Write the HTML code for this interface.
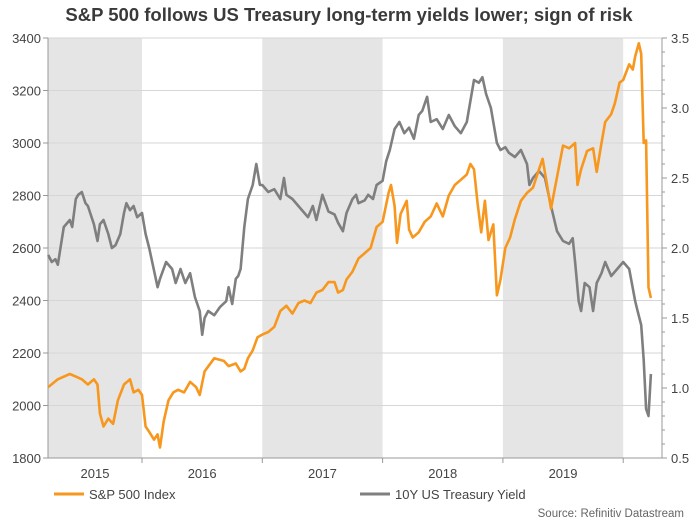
<!DOCTYPE html>
<html><head><meta charset="utf-8"><style>
body{margin:0;background:#fff;}
svg text{font-family:"Liberation Sans",sans-serif;}
</style></head><body>
<svg width="696" height="522" viewBox="0 0 696 522" xmlns="http://www.w3.org/2000/svg">
<text x="349" y="21" text-anchor="middle" font-size="18.5" font-weight="bold" fill="#3a3a3a">S&amp;P 500 follows US Treasury long-term yields lower; sign of risk</text>
<g id="bands"></g><g id="grid"></g><g id="axes"></g><g id="series"></g>
<g>
<line x1="54" y1="494" x2="84" y2="494" stroke="#f7971e" stroke-width="3"/>
<text x="89" y="499" font-size="13" fill="#444">S&amp;P 500 Index</text>
<line x1="360" y1="494" x2="390" y2="494" stroke="#7f7f7f" stroke-width="3"/>
<text x="395" y="499" font-size="13" fill="#444">10Y US Treasury Yield</text>
</g>
<text x="684" y="517" text-anchor="end" font-size="11.5" fill="#666">Source: Refinitiv Datastream</text>
</svg>
<script>
const years=["2015","2016","2017","2018","2019"];
const leftTicks=[1800,2000,2200,2400,2600,2800,3000,3200,3400];
const rightTicks=["0.5","1.0","1.5","2.0","2.5","3.0","3.5"];
const spT=[2015.22,2015.3,2015.4,2015.45,2015.5,2015.55,2015.6,2015.63,2015.65,2015.68,2015.72,2015.76,2015.8,2015.85,2015.9,2015.93,2015.97,2016.0,2016.03,2016.06,2016.1,2016.13,2016.15,2016.18,2016.22,2016.26,2016.3,2016.35,2016.4,2016.45,2016.48,2016.52,2016.6,2016.68,2016.72,2016.78,2016.82,2016.85,2016.88,2016.92,2016.96,2017.0,2017.05,2017.1,2017.15,2017.2,2017.25,2017.3,2017.35,2017.4,2017.45,2017.5,2017.55,2017.6,2017.63,2017.67,2017.7,2017.75,2017.8,2017.85,2017.9,2017.95,2018.0,2018.05,2018.07,2018.1,2018.12,2018.15,2018.2,2018.22,2018.25,2018.3,2018.35,2018.4,2018.45,2018.5,2018.55,2018.6,2018.65,2018.7,2018.73,2018.76,2018.79,2018.82,2018.85,2018.88,2018.92,2018.95,2018.98,2019.02,2019.06,2019.1,2019.15,2019.2,2019.25,2019.3,2019.33,2019.36,2019.4,2019.45,2019.5,2019.55,2019.6,2019.62,2019.65,2019.7,2019.75,2019.78,2019.82,2019.85,2019.9,2019.93,2019.97,2020.0,2020.05,2020.08,2020.1,2020.13,2020.15,2020.17,2020.19,2020.21,2020.23];
const spV=[2070,2100,2120,2110,2100,2080,2100,2080,1970,1920,1950,1930,2020,2080,2100,2050,2060,2040,1920,1900,1870,1890,1840,1940,2020,2050,2060,2050,2090,2070,2040,2130,2180,2170,2150,2160,2130,2140,2180,2210,2260,2270,2280,2300,2360,2380,2350,2390,2400,2390,2430,2440,2470,2470,2430,2440,2480,2510,2560,2580,2600,2680,2700,2810,2840,2760,2620,2730,2780,2670,2640,2660,2700,2720,2770,2720,2800,2840,2860,2880,2920,2900,2770,2660,2780,2630,2690,2420,2480,2600,2640,2710,2780,2810,2830,2900,2940,2860,2750,2870,2990,2980,3000,2840,2900,2970,2980,2890,3000,3080,3110,3150,3230,3240,3300,3280,3330,3380,3340,3000,3010,2450,2410];
const ylT=[2015.22,2015.25,2015.28,2015.3,2015.35,2015.4,2015.42,2015.45,2015.47,2015.5,2015.53,2015.55,2015.6,2015.63,2015.65,2015.68,2015.72,2015.75,2015.78,2015.82,2015.85,2015.87,2015.9,2015.93,2015.96,2016.0,2016.03,2016.06,2016.1,2016.13,2016.15,2016.2,2016.25,2016.28,2016.32,2016.36,2016.4,2016.44,2016.48,2016.5,2016.52,2016.55,2016.6,2016.65,2016.7,2016.72,2016.75,2016.78,2016.8,2016.82,2016.85,2016.88,2016.92,2016.95,2016.98,2017.0,2017.05,2017.1,2017.15,2017.18,2017.2,2017.25,2017.3,2017.35,2017.38,2017.42,2017.45,2017.5,2017.55,2017.6,2017.63,2017.67,2017.7,2017.75,2017.78,2017.8,2017.85,2017.88,2017.92,2017.95,2018.0,2018.03,2018.06,2018.1,2018.14,2018.18,2018.22,2018.26,2018.3,2018.33,2018.37,2018.4,2018.45,2018.5,2018.55,2018.6,2018.65,2018.7,2018.73,2018.76,2018.8,2018.83,2018.86,2018.9,2018.93,2018.95,2018.98,2019.02,2019.05,2019.1,2019.15,2019.2,2019.22,2019.25,2019.3,2019.35,2019.4,2019.45,2019.5,2019.55,2019.58,2019.6,2019.63,2019.65,2019.68,2019.72,2019.75,2019.78,2019.82,2019.85,2019.9,2019.95,2020.0,2020.05,2020.1,2020.12,2020.15,2020.17,2020.19,2020.21,2020.23];
const ylV=[1.95,1.9,1.92,1.88,2.15,2.2,2.15,2.35,2.38,2.4,2.32,2.3,2.17,2.05,2.17,2.2,2.1,2.0,2.02,2.1,2.25,2.32,2.27,2.3,2.22,2.25,2.1,2.0,1.84,1.72,1.78,1.9,1.85,1.75,1.85,1.75,1.82,1.65,1.55,1.38,1.5,1.55,1.52,1.58,1.62,1.72,1.6,1.78,1.8,1.85,2.15,2.35,2.45,2.6,2.45,2.45,2.4,2.42,2.35,2.5,2.38,2.35,2.3,2.25,2.22,2.3,2.2,2.38,2.26,2.24,2.18,2.12,2.25,2.35,2.38,2.32,2.34,2.38,2.35,2.45,2.48,2.62,2.7,2.85,2.9,2.82,2.86,2.78,2.95,2.98,3.08,2.9,2.92,2.85,2.95,2.87,2.82,2.9,3.05,3.2,3.18,3.22,3.1,3.0,2.85,2.75,2.7,2.72,2.68,2.65,2.7,2.6,2.45,2.5,2.55,2.5,2.3,2.12,2.05,2.03,2.07,1.9,1.62,1.55,1.75,1.72,1.55,1.75,1.82,1.9,1.8,1.85,1.9,1.85,1.62,1.55,1.45,1.2,0.85,0.8,1.1];
const X0=48,X1=662,Y0=38,Y1=458;
const xs=t=>Math.min(X1,Math.max(X0,142+(t-2016)*120.3));
const yL=v=>Y1-(v-1800)/1600*(Y1-Y0);
const yR=v=>Y1-(v-0.5)/3*(Y1-Y0);
const NS="http://www.w3.org/2000/svg";
function mk(tag,parent,attrs){const e=document.createElementNS(NS,tag);for(const k in attrs)e.setAttribute(k,attrs[k]);document.getElementById(parent).appendChild(e);return e;}
years.forEach((y,i)=>{
  const t=2015+i;
  if(i%2===0){const r=mk('rect','bands',{x:xs(t),y:Y0,width:xs(t+1)-xs(t),height:Y1-Y0,fill:'#e5e5e5'});
  
  }
  const tx=mk('text','axes',{x:(xs(t)+xs(t+1))/2,y:478,'text-anchor':'middle','font-size':'13',fill:'#444'});
  tx.textContent=y;
  
  
  const tk=mk('line','axes',{x1:xs(t+1),x2:xs(t+1),y1:Y1,y2:Y1+5,stroke:'#999'});
  
  
});
leftTicks.forEach(v=>{
  const g=mk('line','grid',{x1:X0,x2:X1,y1:yL(v),y2:yL(v),stroke:'#d6d6d6','stroke-width':1});
  
  
  const tk=mk('line','axes',{x1:X0-5,x2:X0,y1:yL(v),y2:yL(v),stroke:'#999'});
  
  
  const t=mk('text','axes',{x:X0-7,y:yL(v)+5,'text-anchor':'end','font-size':'13',fill:'#444'});
  t.textContent=v;
  
  
});
for(let k=0;k<=30;k++){const v=0.5+k*0.1;
  const tk=mk('line','axes',{x1:X1,x2:X1+(k%5===0?5:3),y1:yR(v),y2:yR(v),stroke:'#999'});
  
  }
rightTicks.forEach(s=>{
  const t=mk('text','axes',{x:X1+9,y:yR(parseFloat(s))+5,'font-size':'13',fill:'#444'});
  t.textContent=s;
  
  
});
const al=mk('line','axes',{x1:X0,x2:X0,y1:Y0,y2:Y1,stroke:'#999'});


const ar=mk('line','axes',{x1:X1,x2:X1,y1:Y0,y2:Y1,stroke:'#999'});


const ab=mk('line','axes',{x1:X0,x2:X1,y1:Y1,y2:Y1,stroke:'#999'});


const yp=mk('polyline','series',{points:ylT.map((t,i)=>xs(t).toFixed(1)+','+yR(ylV[i]).toFixed(1)).join(' '),fill:'none',stroke:'#7f7f7f','stroke-width':2.6,'stroke-linejoin':'round'});


const sp=mk('polyline','series',{points:spT.map((t,i)=>xs(t).toFixed(1)+','+yL(spV[i]).toFixed(1)).join(' '),fill:'none',stroke:'#f7971e','stroke-width':2.6,'stroke-linejoin':'round'});


</script>
</body></html>
